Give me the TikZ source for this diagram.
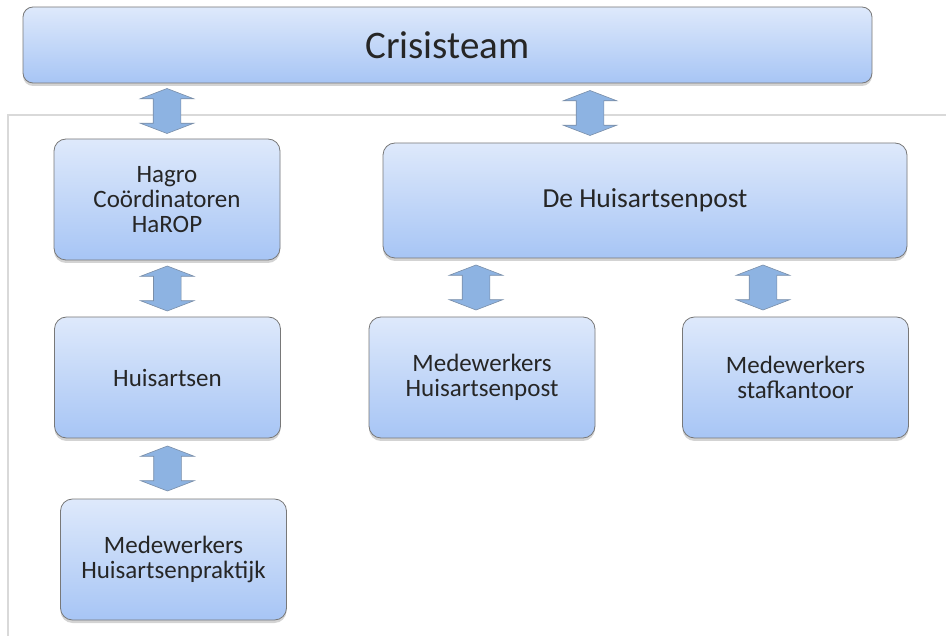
\documentclass[tikz,border=0pt]{standalone}
\usepackage{fontspec}
\setmainfont{Carlito}
\usetikzlibrary{shapes.arrows,shadows,calc}
\definecolor{boxtop}{RGB}{222,233,251}
\definecolor{boxbot}{RGB}{167,197,245}
\definecolor{boxline}{RGB}{120,120,120}
\definecolor{arrowfill}{RGB}{141,179,226}
\definecolor{arrowline}{RGB}{122,142,168}
\definecolor{framegray}{RGB}{217,217,217}

\begin{document}
\begin{tikzpicture}[x=1pt,y=-1pt,
    box/.style={draw=boxline, line width=0.8pt, rounded corners=12pt,
      top color=boxtop, bottom color=boxbot, align=center, text=black!85,
      font=\fontsize{25}{25}\selectfont, minimum width=226pt, minimum height=121pt,
      inner sep=0pt, drop shadow={shadow xshift=0pt, shadow yshift=-3pt, opacity=0.35, fill=black!50}},
    dblarrow/.style={double arrow, draw=arrowline, fill=arrowfill, line width=0.6pt,
      rotate=90, minimum height=45pt, inner sep=0pt, inner ysep=13.5pt,
      double arrow head extend=13pt, double arrow tip angle=138}]
  \useasboundingbox (0,0) rectangle (946,636);
  \draw[framegray, line width=2pt] (946,115) -- (8,115) -- (8,636);

  \node[box, minimum width=849pt, minimum height=76pt, rounded corners=10pt,
    font=\fontsize{39}{40}\selectfont] (crisis) at (447.5,45) {Crisisteam};
  \node[box] (hagro) at (167,199.5) {Hagro\\Coördinatoren\\HaROP};
  \node[box] (huisartsen) at (167.5,377.5) {Huisartsen};
  \node[box] (mwpraktijk) at (173.5,559.5) {Medewerkers\\Huisartsenpraktijk};
  \node[box, minimum width=524pt, minimum height=115pt,
    font=\fontsize{27.5}{28}\selectfont] (post) at (645,200.5) {De Huisartsenpost};
  \node[box] (mwpost) at (482,377.5) {Medewerkers\\Huisartsenpost};
  \node[box] (mwstaf) at (795.5,377.5) {Medewerkers\\stafkantoor};

  \coordinate (p2) at ([xshift=-55pt]post.north);
  \coordinate (p5) at ([xshift=-6pt]mwpost.north);
  \coordinate (p6) at ([xshift=-32.5pt]mwstaf.north);

  \path (crisis.south -| hagro) -- (hagro.north) node[midway, dblarrow] (pijl1) {};
  \path (p2 |- crisis.south) -- (p2) node[midway, dblarrow] (pijl2) {};
  \path (hagro.south) -- (huisartsen.north) node[midway, dblarrow] (pijl3) {};
  \path (huisartsen.south) -- (huisartsen.south |- mwpraktijk.north) node[midway, dblarrow] (pijl4) {};
  \path (p5 |- post.south) -- (p5) node[midway, dblarrow] (pijl5) {};
  \path (p6 |- post.south) -- (p6) node[midway, dblarrow] (pijl6) {};
\end{tikzpicture}
\end{document}
